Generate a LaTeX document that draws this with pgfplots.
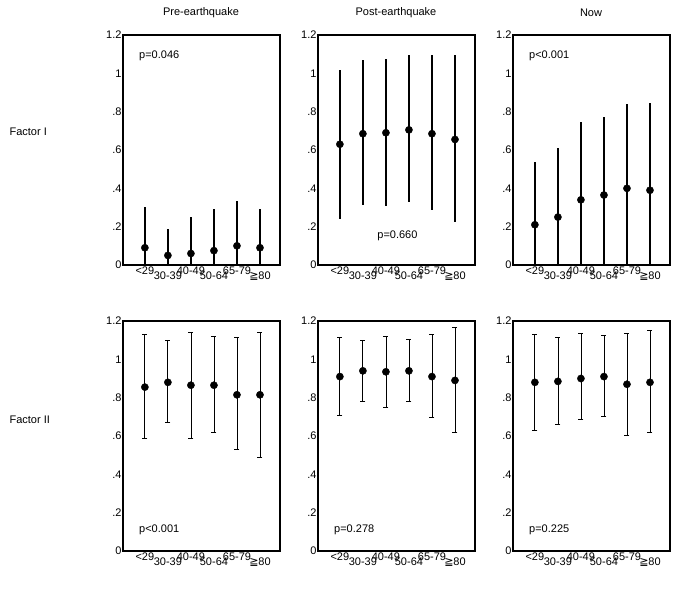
\documentclass[border=0pt]{standalone}
\usepackage{pgfplots}
\pgfplotsset{compat=1.18}
\usepackage{fontspec}
\setmainfont{Liberation Sans}
\newfontfamily\dv{DejaVu Sans}
\pgfplotsset{
 panel/.style={scale only axis, width=157pt, height=230pt, xmin=0.05, xmax=6.87, ymin=0, ymax=1.2,
  axis line style={line width=1.2pt}, anchor=north west,
  ytick={0,0.2,0.4,0.6,0.8,1,1.2}, yticklabels={0,.2,.4,.6,.8,1,1.2},
  xtick={1,2,3,4,5,6}, xticklabels={<29,{\mbox{}\\30-39},40-49,{\mbox{}\\50-64},65-79,{\mbox{}\\{\dv ≧}80}},
  xticklabel style={align=center, anchor=north, yshift=2pt}, tick style={draw=none},
  /pgf/number format/assume math mode=true, font=\fontsize{11}{13}\selectfont,
  yticklabel style={xshift=2pt}},
 r1/.style={only marks, mark=*, mark size=3.6pt, black, mark options={fill=black,draw=black}, error bars/.cd, y dir=both, y explicit, error bar style={line width=1.5pt,black}, error mark=none},
 r2/.style={only marks, mark=*, mark size=3.6pt, black, mark options={fill=black,draw=black}, error bars/.cd, y dir=both, y explicit, error bar style={line width=0.8pt,black}, error mark options={rotate=90, mark size=2.5pt, line width=0.8pt,black}},
}
\begin{document}
\begin{tikzpicture}
\path (0pt,0pt) rectangle (679pt,-605pt);
\node[font=\fontsize{11}{13}\selectfont] at (201pt,-13pt) {Pre-earthquake};
\node[font=\fontsize{11}{13}\selectfont] at (396pt,-13pt) {Post-earthquake};
\node[font=\fontsize{11}{13}\selectfont] at (591pt,-13pt) {Now};
\node[font=\fontsize{11}{13}\selectfont,anchor=west] at (6pt,-132pt) {Factor I};
\node[font=\fontsize{11}{13}\selectfont,anchor=west] at (6pt,-420pt) {Factor II};
% row 1
\begin{axis}[panel, at={(123pt,-35pt)}]
\addplot[r1] coordinates {(1,0.09) +- (0,0.215) (2,0.05) += (0,0.14) -= (0,0.2) (3,0.06) += (0,0.19) -= (0,0.2) (4,0.075) += (0,0.215) -= (0,0.2) (5,0.10) += (0,0.235) -= (0,0.2) (6,0.09) += (0,0.20) -= (0,0.2)};
\node[anchor=west] at (axis cs:0.6,1.09) {p=0.046};
\end{axis}
\begin{axis}[panel, at={(318pt,-35pt)}]
\addplot[r1] coordinates {(1,0.63) += (0,0.39) -= (0,0.39) (2,0.685) += (0,0.385) -= (0,0.37) (3,0.69) += (0,0.385) -= (0,0.38) (4,0.705) += (0,0.39) -= (0,0.375) (5,0.685) += (0,0.41) -= (0,0.40) (6,0.655) += (0,0.44) -= (0,0.43)};
\node at (axis cs:3.5,0.15) {p=0.660};
\end{axis}
\begin{axis}[panel, at={(513pt,-35pt)}]
\addplot[r1] coordinates {(1,0.21) += (0,0.33) -= (0,0.33) (2,0.25) += (0,0.36) -= (0,0.36) (3,0.34) += (0,0.405) -= (0,0.405) (4,0.365) += (0,0.405) -= (0,0.405) (5,0.40) += (0,0.44) -= (0,0.44) (6,0.39) += (0,0.455) -= (0,0.455)};
\node[anchor=west] at (axis cs:0.6,1.09) {p<0.001};
\end{axis}
% row 2
\begin{axis}[panel, at={(123pt,-321pt)}]
\addplot[r2] coordinates {(1,0.855) += (0,0.275) -= (0,0.265) (2,0.88) += (0,0.22) -= (0,0.21) (3,0.865) += (0,0.275) -= (0,0.275) (4,0.865) += (0,0.255) -= (0,0.245) (5,0.815) += (0,0.30) -= (0,0.285) (6,0.815) += (0,0.325) -= (0,0.325)};
\node[anchor=west] at (axis cs:0.6,0.11) {p<0.001};
\end{axis}
\begin{axis}[panel, at={(318pt,-321pt)}]
\addplot[r2] coordinates {(1,0.91) += (0,0.205) -= (0,0.205) (2,0.94) += (0,0.16) -= (0,0.16) (3,0.935) += (0,0.185) -= (0,0.185) (4,0.94) += (0,0.165) -= (0,0.16) (5,0.91) += (0,0.22) -= (0,0.215) (6,0.89) += (0,0.275) -= (0,0.27)};
\node[anchor=west] at (axis cs:0.6,0.11) {p=0.278};
\end{axis}
\begin{axis}[panel, at={(513pt,-321pt)}]
\addplot[r2] coordinates {(1,0.88) += (0,0.25) -= (0,0.25) (2,0.885) += (0,0.23) -= (0,0.225) (3,0.90) += (0,0.235) -= (0,0.215) (4,0.91) += (0,0.215) -= (0,0.21) (5,0.87) += (0,0.265) -= (0,0.265) (6,0.88) += (0,0.27) -= (0,0.26)};
\node[anchor=west] at (axis cs:0.6,0.11) {p=0.225};
\end{axis}
\end{tikzpicture}
\end{document}
